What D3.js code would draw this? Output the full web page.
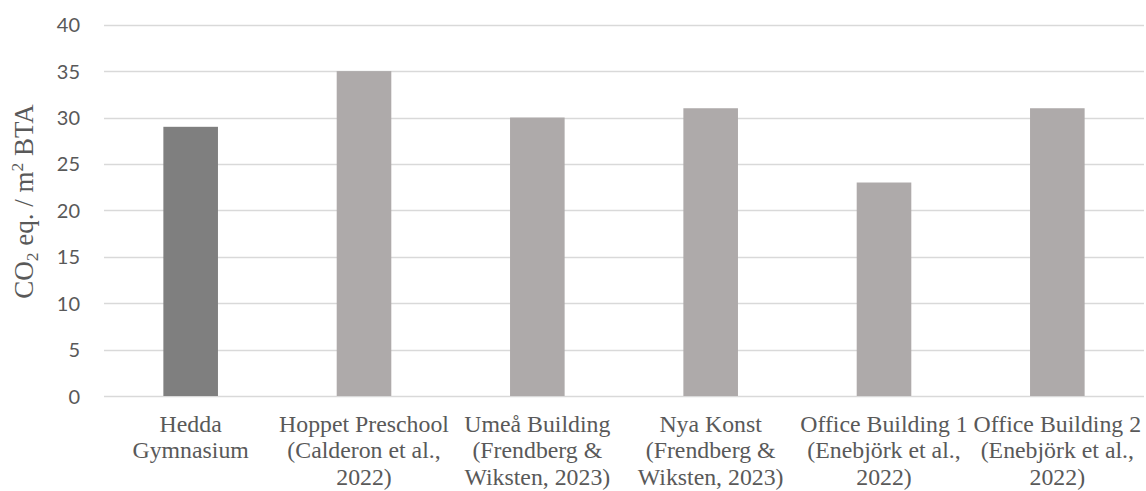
<!DOCTYPE html>
<html>
<head>
<meta charset="utf-8">
<script src="https://cdn.jsdelivr.net/npm/d3@7"></script>
<style>
html, body { margin: 0; padding: 0; background: #ffffff; }
svg { display: block; }
</style>
</head>
<body>
<svg id="chart" width="1146" height="491"></svg>
<script>
const categories = [
  ["Hedda", "Gymnasium"],
  ["Hoppet Preschool", "(Calderon et al.,", "2022)"],
  ["Umeå Building", "(Frendberg &", "Wiksten, 2023)"],
  ["Nya Konst", "(Frendberg &", "Wiksten, 2023)"],
  ["Office Building 1", "(Enebjörk et al.,", "2022)"],
  ["Office Building 2", "(Enebjörk et al.,", "2022)"]
];
const values = [29, 35, 30, 31, 23, 31];
const barColors = ["#7f7f7f", "#aeaaaa", "#aeaaaa", "#aeaaaa", "#aeaaaa", "#aeaaaa"];
const yTicks = [0, 5, 10, 15, 20, 25, 30, 35, 40];

(function () {
const svg = d3.select("#chart");
const mLeft = 104, mRight = 1144, mTop = 24.7, mBottom = 396;

const x = d3.scaleBand()
  .domain(d3.range(categories.length))
  .range([mLeft, mRight])
  .paddingInner(0.685)
  .paddingOuter(0.3425);

const y = d3.scaleLinear().domain([0, 40]).range([mBottom, mTop]);

// gridlines
svg.append("g")
  .selectAll("line")
  .data(yTicks)
  .join("line")
  .attr("x1", mLeft)
  .attr("x2", mRight)
  .attr("y1", d => Math.round(y(d)) + 0.5)
  .attr("y2", d => Math.round(y(d)) + 0.5)
  .attr("stroke", "#d9d9d9")
  .attr("stroke-width", 1.3);

// y axis labels
const yAxis = d3.axisLeft(y).tickValues(yTicks).tickSize(0).tickPadding(0);
const gy = svg.append("g").attr("transform", `translate(80,0)`).call(yAxis);
gy.select(".domain").remove();
gy.selectAll("text")
  .attr("font-family", "Lato, 'Open Sans', sans-serif")
  .attr("font-size", 20)
  .attr("fill", "#595959")
  .attr("dy", "0.35em");

// bars
svg.append("g")
  .selectAll("rect")
  .data(values)
  .join("rect")
  .attr("x", (d, i) => x(i))
  .attr("width", x.bandwidth())
  .attr("y", d => y(d))
  .attr("height", d => y(0) - y(d))
  .attr("fill", (d, i) => barColors[i]);

// x labels
const lineBase = [432, 458.3, 484.6];
const gx = svg.append("g");
categories.forEach((lines, i) => {
  const cx = x(i) + x.bandwidth() / 2;
  const t = gx.append("text")
    .attr("text-anchor", "middle")
    .attr("font-family", "'Liberation Serif', 'Times New Roman', serif")
    .attr("font-size", 23.8)
    .attr("fill", "#595959");
  lines.forEach((ln, j) => {
    t.append("tspan").attr("x", cx).attr("y", lineBase[j]).text(ln);
  });
});

// y title
const yt = svg.append("text")
  .attr("transform", "translate(33,201.5) rotate(-90)")
  .attr("text-anchor", "middle")
  .attr("font-family", "'Liberation Serif', 'Times New Roman', serif")
  .attr("font-size", 27)
  .attr("fill", "#595959");
yt.append("tspan").text("CO");
yt.append("tspan").attr("font-size", 17.5).attr("dy", 5).text("2");
yt.append("tspan").attr("dy", -5).text(" eq. / m");
yt.append("tspan").attr("font-size", 17.5).attr("dy", -10).text("2");
yt.append("tspan").attr("dy", 10).text(" BTA");
})();
</script>
</body>
</html>
